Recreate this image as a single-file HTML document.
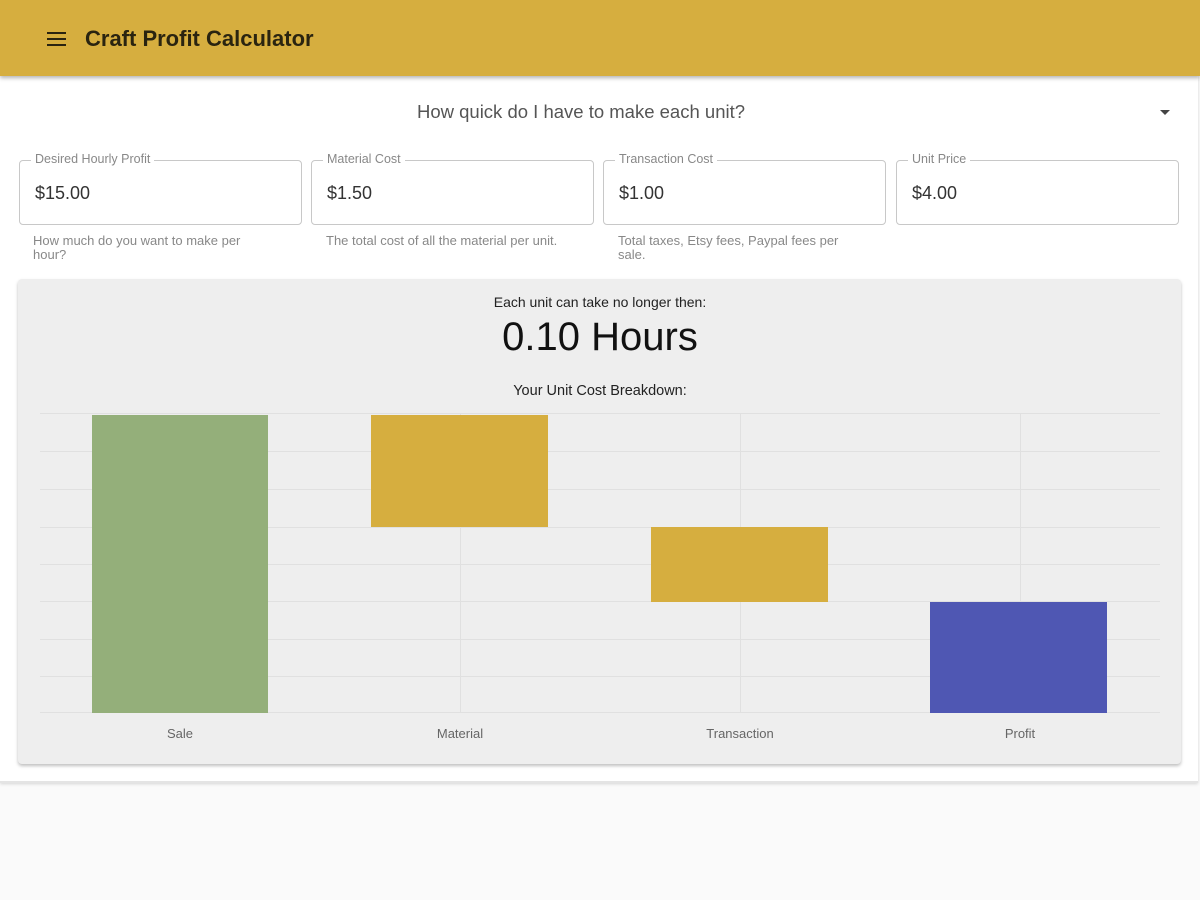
<!DOCTYPE html>
<html><head><style>
body{margin:0;width:1200px;height:900px;background:#fafafa;font-family:"Liberation Sans",sans-serif;position:relative;overflow:hidden}
.hdr{position:absolute;left:0;top:0;width:1200px;height:76px;background:#d6ae3f;box-shadow:0 2px 4px rgba(0,0,0,.3);z-index:2}
.hdr .t{position:absolute;left:85px;top:26px;font-size:22px;font-weight:bold;color:#2a2410}
.ham{position:absolute;left:47px;width:19px;height:2px;background:#2a2410}
.panel{position:absolute;left:0;top:76px;width:1198px;height:705px;background:#fff;border-bottom:2px solid #e4e4e4;box-shadow:0 1px 3px rgba(0,0,0,.15)}
.abs{position:absolute}
.fld{position:absolute;top:160px;width:281px;height:63px;border:1px solid #c8c8c8;border-radius:4px;background:#fff}
.fld .l{position:absolute;top:-9px;left:11px;background:#fff;padding:0 4px;font-size:12.5px;color:#888}
.fld .v{position:absolute;left:15px;top:22px;font-size:18px;color:#333}
.hint{position:absolute;top:234px;font-size:13px;color:#888;line-height:14px;width:236px}
.card{position:absolute;left:18px;top:279px;width:1163px;height:485px;background:#eeeeee;border-radius:4px;box-shadow:0 2px 3px rgba(0,0,0,.25)}
.xl{position:absolute;top:726px;font-size:13px;color:#666;width:200px;text-align:center}
</style></head><body>
<div class="hdr"><div class="ham" style="top:32px"></div><div class="ham" style="top:38px"></div><div class="ham" style="top:44px"></div><div class="t">Craft Profit Calculator</div></div>
<div class="panel"></div>
<div class="abs" style="left:0;width:1162px;top:101px;text-align:center;font-size:18.5px;color:#555">How quick do I have to make each unit?</div>
<div class="abs" style="left:1160px;top:110px;width:0;height:0;border-left:5px solid transparent;border-right:5px solid transparent;border-top:5px solid #444"></div>
<div class="fld" style="left:19px"><div class="l">Desired Hourly Profit</div><div class="v">$15.00</div></div>
<div class="fld" style="left:311px"><div class="l">Material Cost</div><div class="v">$1.50</div></div>
<div class="fld" style="left:603px"><div class="l">Transaction Cost</div><div class="v">$1.00</div></div>
<div class="fld" style="left:896px"><div class="l">Unit Price</div><div class="v">$4.00</div></div>
<div class="hint" style="left:33px">How much do you want to make per hour?</div>
<div class="hint" style="left:326px;width:270px">The total cost of all the material per unit.</div>
<div class="hint" style="left:618px;width:240px">Total taxes, Etsy fees, Paypal fees per sale.</div>
<div class="card"></div>
<div class="abs" style="left:0;width:1200px;top:294px;text-align:center;font-size:14px;color:#222">Each unit can take no longer then:</div>
<div class="abs" style="left:0;width:1200px;top:315px;text-align:center;font-size:40px;color:#111">0.10 Hours</div>
<div class="abs" style="left:0;width:1200px;top:383px;text-align:center;font-size:14.5px;color:#222">Your Unit Cost Breakdown:</div>
<svg class="abs" style="left:0;top:0" width="1200" height="900">
<g stroke="#e0e0e0" stroke-width="1">
<line x1="40" x2="1160" y1="413.5" y2="413.5"/><line x1="40" x2="1160" y1="451.5" y2="451.5"/><line x1="40" x2="1160" y1="489.5" y2="489.5"/><line x1="40" x2="1160" y1="527.5" y2="527.5"/><line x1="40" x2="1160" y1="564.5" y2="564.5"/><line x1="40" x2="1160" y1="601.5" y2="601.5"/><line x1="40" x2="1160" y1="639.5" y2="639.5"/><line x1="40" x2="1160" y1="676.5" y2="676.5"/><line x1="40" x2="1160" y1="712.5" y2="712.5"/>
<line x1="460.5" x2="460.5" y1="413" y2="713"/><line x1="740.5" x2="740.5" y1="413" y2="713"/><line x1="1020.5" x2="1020.5" y1="413" y2="713"/>
</g>
<rect x="92" y="415" width="176" height="298" fill="#94af7a"/>
<rect x="371" y="415" width="177" height="112" fill="#d6ae3f"/>
<rect x="651" y="527" width="177" height="75" fill="#d6ae3f"/>
<rect x="930" y="602" width="177" height="111" fill="#4f57b3"/>
</svg>
<div class="xl" style="left:80px">Sale</div>
<div class="xl" style="left:360px">Material</div>
<div class="xl" style="left:640px">Transaction</div>
<div class="xl" style="left:920px">Profit</div>
</body></html>
